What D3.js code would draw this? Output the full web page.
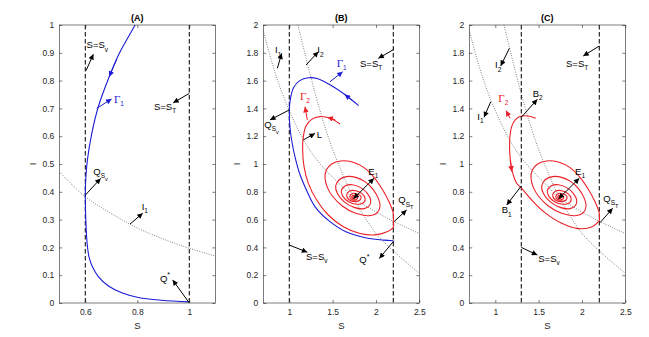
<!DOCTYPE html>
<html>
<head>
<meta charset="utf-8">
<script src="https://cdn.jsdelivr.net/npm/d3@7"></script>
<style>
  body { margin: 0; background: #fff; }
</style>
</head>
<body>
<svg id="fig" width="649" height="337"></svg>
<script>
// ---- data (S, I) ----
const xTicksA = [0.6, 0.8, 1];
const yTicksA = [0, 0.1, 0.2, 0.3, 0.4, 0.5, 0.6, 0.7, 0.8, 0.9, 1];
const xTicksBC = [1, 1.5, 2, 2.5];
const yTicksBC = [0, 0.2, 0.4, 0.6, 0.8, 1, 1.2, 1.4, 1.6, 1.8, 2];

// switching lines S = Sv and S = ST
const dashedA = [0.6, 1.0];
const dashedB = [1.0, 2.2];
const dashedC = [1.3, 2.2];

// isoclines
const i1A = [[0.5, 0.472], [0.6, 0.382], [0.7, 0.322], [0.8, 0.270], [0.9, 0.230], [1.0, 0.197], [1.1, 0.169]];
const i1BC = [[0.7, 1.96], [0.8, 1.73], [0.9, 1.54], [1.0, 1.385], [1.1, 1.25], [1.2, 1.135], [1.3, 1.045],
  [1.4, 0.97], [1.5, 0.905], [1.6, 0.845], [1.7, 0.775], [1.8, 0.73], [2.0, 0.655], [2.2, 0.588], [2.5, 0.50]];
const i2BC = [[1.10, 2.0], [1.2, 1.745], [1.3, 1.505], [1.4, 1.29], [1.5, 1.105], [1.6, 0.95], [1.7, 0.81],
  [1.8, 0.69], [1.9, 0.59], [2.0, 0.50], [2.2, 0.375], [2.5, 0.213]];

// trajectories
const gamma1A = [[0.80, 1.02], [0.791, 1.0], [0.731, 0.898], [0.692, 0.814], [0.650, 0.706], [0.625, 0.61],
  [0.608, 0.514], [0.601, 0.43], [0.600, 0.382], [0.603, 0.274], [0.607, 0.215], [0.614, 0.167],
  [0.627, 0.131], [0.650, 0.095], [0.689, 0.061], [0.740, 0.037], [0.804, 0.020], [0.894, 0.010], [1.0, 0.004]];
const gamma1B = [[1.80, 1.42], [1.64, 1.50], [1.47, 1.57], [1.32, 1.615], [1.22, 1.62], [1.12, 1.60],
  [1.05, 1.55], [1.01, 1.46], [1.0, 1.38], [1.01, 1.25], [1.03, 1.16], [1.07, 1.04], [1.12, 0.93],
  [1.20, 0.81], [1.30, 0.69], [1.47, 0.585], [1.66, 0.51], [1.89, 0.468], [2.09, 0.452], [2.2, 0.448]];
const gamma2B = [[1.585, 1.288], [1.47, 1.329], [1.354, 1.341], [1.258, 1.321], [1.193, 1.273], [1.162, 1.197],
  [1.154, 1.101], [1.17, 0.981], [1.22, 0.861], [1.316, 0.741], [1.45, 0.633], [1.623, 0.549],
  [1.816, 0.50], [1.99, 0.49], [2.12, 0.51], [2.2, 0.545], [2.2, 0.59]];
const gamma2C = [[1.466, 1.329], [1.381, 1.345], [1.304, 1.345], [1.235, 1.321], [1.189, 1.269], [1.166, 1.173],
  [1.170, 1.053], [1.197, 0.945], [1.247, 0.861], [1.304, 0.825], [1.42, 0.741], [1.573, 0.65],
  [1.766, 0.573], [1.958, 0.535], [2.12, 0.549], [2.2, 0.59]];
// common part after Q_ST, spiralling into E1
const spiralE1 = [[2.2, 0.59], [2.2, 0.645], [2.15, 0.729], [2.073, 0.818], [1.977, 0.904], [1.862, 0.974],
  [1.727, 1.014], [1.593, 1.022], [1.489, 1.0], [1.427, 0.957], [1.412, 0.897], [1.439, 0.832],
  [1.497, 0.77], [1.612, 0.698], [1.766, 0.645], [1.92, 0.628], [2.016, 0.65], [2.047, 0.698],
  [2.027, 0.753], [1.966, 0.818], [1.873, 0.873], [1.766, 0.904], [1.658, 0.909], [1.573, 0.885],
  [1.535, 0.842], [1.554, 0.789], [1.631, 0.729], [1.747, 0.688], [1.862, 0.679], [1.927, 0.703],
  [1.939, 0.741], [1.9, 0.789], [1.823, 0.83], [1.727, 0.851], [1.643, 0.842], [1.6, 0.808],
  [1.62, 0.765], [1.689, 0.727], [1.785, 0.71], [1.862, 0.724], [1.874, 0.755], [1.835, 0.789],
  [1.766, 0.808], [1.697, 0.806], [1.662, 0.777], [1.689, 0.743], [1.758, 0.729], [1.816, 0.741],
  [1.827, 0.765], [1.785, 0.784], [1.727, 0.787], [1.697, 0.765], [1.727, 0.743], [1.777, 0.746],
  [1.789, 0.762], [1.754, 0.775], [1.72, 0.767], [1.731, 0.751], [1.758, 0.755], [1.743, 0.765], [1.735, 0.758]];

// annotation arrows: from point -> toward label
const arrowsA = [
  { from: [0.603, 0.836], to: [0.631, 0.895] },
  { from: [1.0, 0.754], to: [0.938, 0.72] },
  { from: [0.6, 0.388], to: [0.659, 0.448] },
  { from: [0.772, 0.284], to: [0.821, 0.323] },
  { from: [1.0, 0.0], to: [0.936, 0.083] },
  { from: [0.644, 0.70], to: [0.701, 0.734], c: 'b' },
  { from: [0.72, 0.875], to: [0.692, 0.814], c: 'b' },
];
const labelsA = [
  { at: [0.605, 0.916], t: [['S=S', 0], ['v', 1]] },
  { at: [0.864, 0.694], t: [['S=S', 0], ['T', 1]] },
  { at: [0.71, 0.72], t: [['Γ', 0, 'serif'], ['1', 1]], c: 'b' },
  { at: [0.631, 0.46], t: [['Q', 0], ['S', 1], ['v', 2]] },
  { at: [0.817, 0.335], t: [['I', 0], ['1', 1]] },
  { at: [0.887, 0.077], t: [['Q', 0], ['*', -1]] },
];
const arrowsB = [
  { from: [0.862, 1.688], to: [0.912, 1.796] },
  { from: [1.193, 1.712], to: [1.335, 1.808] },
  { from: [1.47, 1.592], to: [1.616, 1.664], c: 'b' },
  { from: [1.72, 1.46], to: [1.64, 1.50], c: 'b' },
  { from: [2.208, 1.825], to: [2.027, 1.76] },
  { from: [1.0, 1.389], to: [0.777, 1.317] },
  { from: [1.208, 1.317], to: [1.181, 1.412], c: 'r' },
  { from: [1.53, 1.318], to: [1.44, 1.336], c: 'r' },
  { from: [1.162, 1.173], to: [1.296, 1.22] },
  { from: [1.74, 0.75], to: [1.977, 0.897], both: true },
  { from: [2.208, 0.585], to: [2.354, 0.669] },
  { from: [2.208, 0.448], to: [2.039, 0.321] },
  { from: [1.0, 0.417], to: [1.208, 0.365] },
];
const labelsB = [
  { at: [0.835, 1.796], t: [['I', 0], ['1', 1]] },
  { at: [1.323, 1.796], t: [['I', 0], ['2', 1]] },
  { at: [1.547, 1.70], t: [['Γ', 0, 'serif'], ['1', 1]], c: 'b' },
  { at: [1.816, 1.70], t: [['S=S', 0], ['T', 1]] },
  { at: [1.123, 1.46], t: [['Γ', 0, 'serif'], ['2', 1]], c: 'r' },
  { at: [0.712, 1.257], t: [['Q', 0], ['S', 1], ['v', 2]] },
  { at: [1.316, 1.185], t: [['L', 0]] },
  { at: [1.912, 0.92], t: [['E', 0], ['1', 1]] },
  { at: [2.258, 0.717], t: [['Q', 0], ['S', 1], ['T', 2]] },
  { at: [1.193, 0.309], t: [['S=S', 0], ['v', 1]] },
  { at: [1.808, 0.286], t: [['Q', 0], ['*', -1]] },
];
const arrowsC = [
  { from: [1.162, 1.832], to: [1.062, 1.705] },
  { from: [0.947, 1.448], to: [0.870, 1.336] },
  { from: [1.3, 1.336], to: [1.485, 1.465] },
  { from: [1.3, 0.842], to: [1.131, 0.705] },
  { from: [1.73, 0.75], to: [1.969, 0.897], both: true },
  { from: [2.208, 0.578], to: [2.354, 0.681] },
  { from: [2.2, 1.849], to: [2.015, 1.777] },
  { from: [1.3, 0.40], to: [1.485, 0.345] },
  { from: [1.17, 1.329], to: [1.124, 1.384], c: 'r' },
  { from: [1.172, 1.03], to: [1.19, 0.945], c: 'r' },
];
const labelsC = [
  { at: [0.997, 1.688], t: [['I', 0], ['2', 1]] },
  { at: [1.816, 1.70], t: [['S=S', 0], ['T', 1]] },
  { at: [1.432, 1.484], t: [['B', 0], ['2', 1]] },
  { at: [1.035, 1.448], t: [['Γ', 0, 'serif'], ['2', 1]], c: 'r' },
  { at: [0.792, 1.317], t: [['I', 0], ['1', 1]] },
  { at: [1.92, 0.921], t: [['E', 0], ['1', 1]] },
  { at: [1.074, 0.645], t: [['B', 0], ['1', 1]] },
  { at: [2.246, 0.729], t: [['Q', 0], ['S', 1], ['T', 2]] },
  { at: [1.496, 0.297], t: [['S=S', 0], ['v', 1]] },
];

// ---- layout ----
const TOP = 25, BOTTOM = 303, PW = 156;
const FONT = 'Liberation Sans, Arial, Helvetica, sans-serif';
const colors = { k: '#000', b: '#1c1cd6', r: '#ec2027' };

const panels = [
  { title: '(A)', left: 59.3, xDom: [0.5, 1.1], yDom: [0, 1], xTicks: xTicksA, yTicks: yTicksA,
    dashed: dashedA, dotted: [i1A], curves: [{ pts: gamma1A, c: 'b' }], arrows: arrowsA, labels: labelsA },
  { title: '(B)', left: 263.3, xDom: [0.7, 2.5], yDom: [0, 2], xTicks: xTicksBC, yTicks: yTicksBC,
    dashed: dashedB, dotted: [i1BC, i2BC],
    curves: [{ pts: gamma1B, c: 'b' }, { pts: gamma2B, c: 'r' }, { pts: spiralE1, c: 'r' }],
    arrows: arrowsB, labels: labelsB },
  { title: '(C)', left: 469.3, xDom: [0.7, 2.5], yDom: [0, 2], xTicks: xTicksBC, yTicks: yTicksBC,
    dashed: dashedC, dotted: [i1BC, i2BC],
    curves: [{ pts: gamma2C, c: 'r' }, { pts: spiralE1, c: 'r' }],
    arrows: arrowsC, labels: labelsC },
];

const svg = d3.select('#fig');
svg.append('rect').attr('width', 649).attr('height', 337).attr('fill', '#fff');
const defs = svg.append('defs');

// arrow heads
Object.entries(colors).forEach(([k, c]) => {
  defs.append('marker').attr('id', 'ah-' + k)
    .attr('viewBox', '0 0 10 10').attr('refX', 10).attr('refY', 5)
    .attr('markerWidth', 7).attr('markerHeight', 5.5)
    .attr('markerUnits', 'userSpaceOnUse').attr('orient', 'auto-start-reverse')
    .append('path').attr('d', 'M0,0L10,5L0,10z').attr('fill', c);
});

const lvShift = { '-1': -4.5, 0: 0, 1: 3.2, 2: 6 };
const lvSize = { '-1': 7, 0: 9.5, 1: 6.5, 2: 5.5 };

function addLabel(g, x, y, parts, color) {
  const t = g.append('text').attr('x', x).attr('y', y)
    .attr('fill', color).attr('font-family', FONT).attr('font-size', 9.5);
  let lv = 0;
  parts.forEach(([s, l, fam]) => {
    const sp = t.append('tspan').attr('dy', lvShift[l] - lvShift[lv]).attr('font-size', lvSize[l]).text(s);
    if (fam === 'serif') sp.attr('font-family', 'Liberation Serif, Times New Roman, serif').attr('font-size', 11);
    lv = l;
  });
}

panels.forEach((p, i) => {
  const x = d3.scaleLinear().domain(p.xDom).range([p.left, p.left + PW]);
  const y = d3.scaleLinear().domain(p.yDom).range([BOTTOM, TOP]);
  const g = svg.append('g');

  const clipId = 'clip' + i;
  defs.append('clipPath').attr('id', clipId)
    .append('rect').attr('x', p.left).attr('y', TOP).attr('width', PW).attr('height', BOTTOM - TOP);
  const plot = g.append('g').attr('clip-path', `url(#${clipId})`);

  const line = d3.line().x(d => x(d[0])).y(d => y(d[1])).curve(d3.curveCatmullRom.alpha(0.5));

  // isoclines (dotted)
  p.dotted.forEach(d => {
    plot.append('path').attr('d', line(d)).attr('fill', 'none')
      .attr('stroke', '#222').attr('stroke-width', 0.7).attr('stroke-dasharray', '0.8,1.6');
  });

  // S = Sv, S = ST (dashed)
  p.dashed.forEach(s => {
    plot.append('line').attr('x1', x(s)).attr('x2', x(s)).attr('y1', TOP).attr('y2', BOTTOM)
      .attr('stroke', '#111').attr('stroke-width', 1.1).attr('stroke-dasharray', '4.5,2.5');
  });

  // trajectories
  p.curves.forEach(c => {
    plot.append('path').attr('d', line(c.pts)).attr('fill', 'none')
      .attr('stroke', colors[c.c]).attr('stroke-width', 1.1);
  });

  // annotation arrows
  p.arrows.forEach(a => {
    const k = a.c || 'k';
    const l = g.append('line')
      .attr('x1', x(a.from[0])).attr('y1', y(a.from[1]))
      .attr('x2', x(a.to[0])).attr('y2', y(a.to[1]))
      .attr('stroke', colors[k]).attr('stroke-width', 1)
      .attr('marker-end', `url(#ah-${k})`);
    if (a.both) l.attr('marker-start', `url(#ah-${k})`);
  });

  // labels
  p.labels.forEach(lb => addLabel(g, x(lb.at[0]), y(lb.at[1]), lb.t, colors[lb.c || 'k']));

  // axes, ticks pointing inward on all four sides
  const fmt = d3.format('~g');
  const axG = g.append('g').attr('font-family', FONT);
  axG.append('g').attr('transform', `translate(0,${BOTTOM})`)
    .call(d3.axisBottom(x).tickValues(p.xTicks).tickSizeInner(-3).tickSizeOuter(0).tickPadding(6).tickFormat(fmt));
  axG.append('g').attr('transform', `translate(0,${TOP})`)
    .call(d3.axisTop(x).tickValues(p.xTicks).tickSizeInner(-3).tickSizeOuter(0).tickFormat(''));
  axG.append('g').attr('transform', `translate(${p.left},0)`)
    .call(d3.axisLeft(y).tickValues(p.yTicks).tickSizeInner(-3).tickSizeOuter(0).tickPadding(5).tickFormat(fmt));
  axG.append('g').attr('transform', `translate(${p.left + PW},0)`)
    .call(d3.axisRight(y).tickValues(p.yTicks).tickSizeInner(-3).tickSizeOuter(0).tickFormat(''));
  axG.selectAll('.domain').remove();
  axG.selectAll('.tick line').attr('stroke', '#262626').attr('stroke-width', 0.6);
  axG.selectAll('.tick text').attr('fill', '#262626').attr('font-size', 8.5);

  g.append('rect').attr('x', p.left).attr('y', TOP).attr('width', PW).attr('height', BOTTOM - TOP)
    .attr('fill', 'none').attr('stroke', '#262626').attr('stroke-width', 0.6);

  // title and axis labels
  g.append('text').attr('x', p.left + PW / 2).attr('y', 21).attr('text-anchor', 'middle')
    .attr('font-family', FONT).attr('font-weight', 'bold').attr('font-size', 9).attr('fill', '#000')
    .text(p.title);
  g.append('text').attr('x', p.left + PW / 2).attr('y', 329).attr('text-anchor', 'middle')
    .attr('font-family', FONT).attr('font-size', 9.5).attr('fill', '#262626').text('S');
  g.append('text').attr('transform', `translate(${p.left - 23},${(TOP + BOTTOM) / 2}) rotate(-90)`)
    .attr('text-anchor', 'middle').attr('font-family', FONT).attr('font-size', 9.5).attr('fill', '#262626')
    .text('I');
});
</script>
</body>
</html>
